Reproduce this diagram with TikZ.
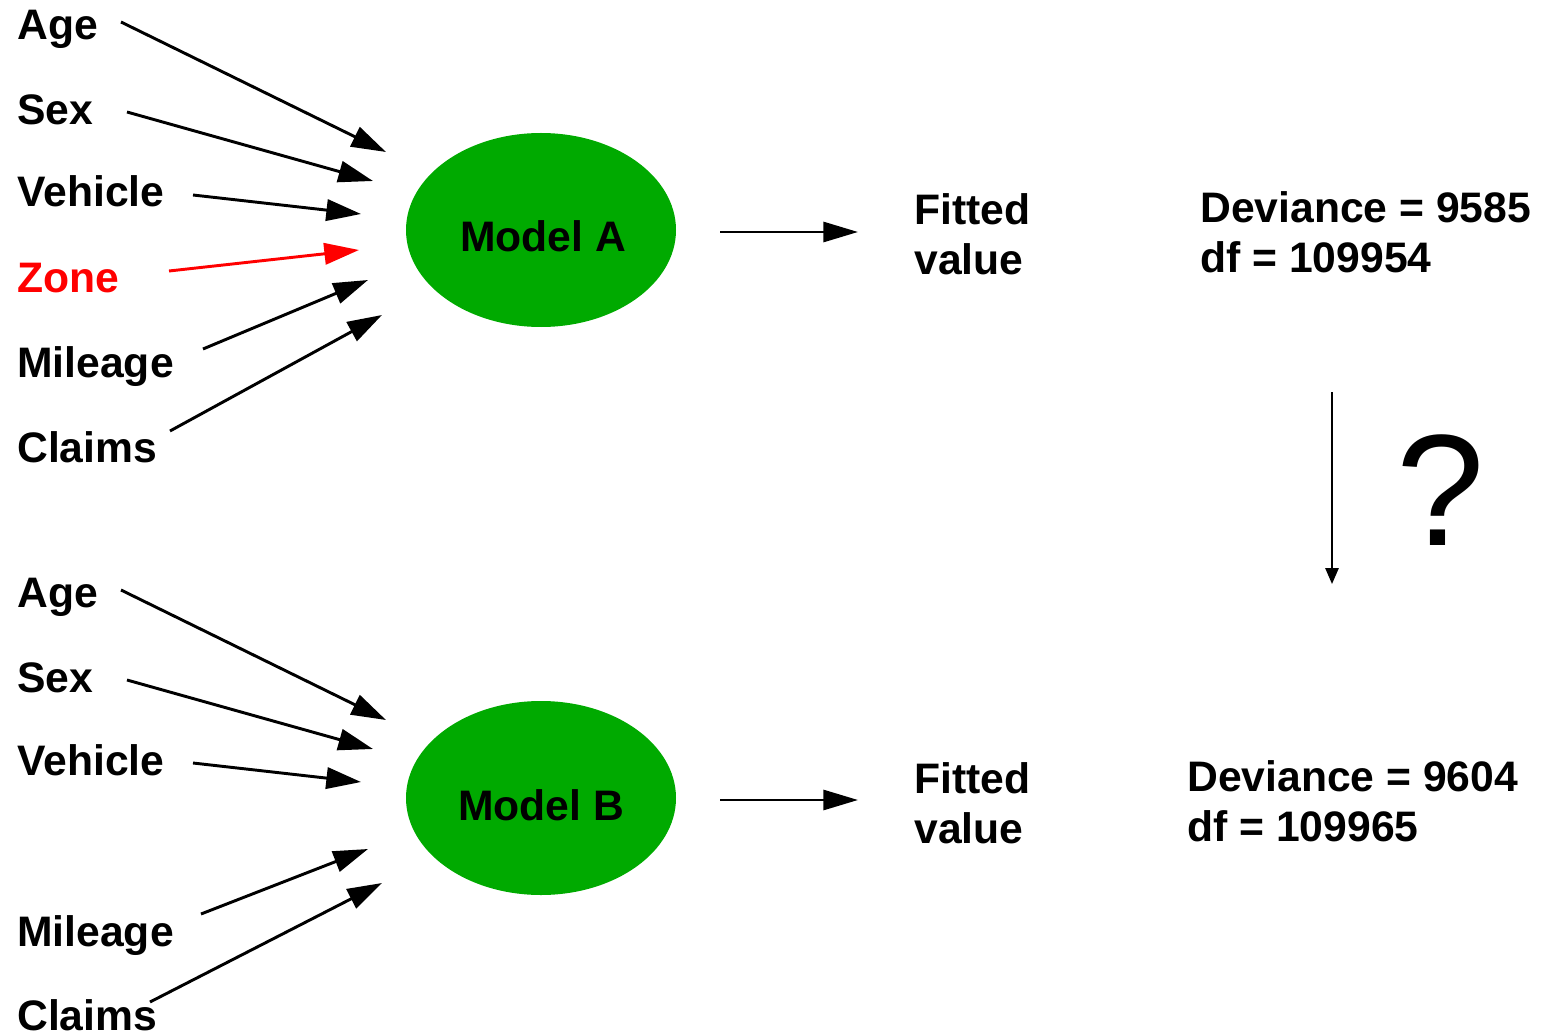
\documentclass[tikz,border=0pt]{standalone}
\usepackage{fontspec}
\setmainfont{Liberation Sans}
\usetikzlibrary{arrows.meta,shapes.geometric}
\definecolor{modelgreen}{RGB}{0,170,0}
\definecolor{zonered}{RGB}{255,0,0}
\begin{document}
\begin{tikzpicture}[x=0.75pt,y=-0.75pt,
  lbl/.style={anchor=base west,inner sep=0pt,font=\fontsize{32}{37.5}\selectfont\bfseries},
  model/.style={ellipse,fill=modelgreen,minimum width=202.5pt,minimum height=145.5pt,inner sep=0pt},
  inarrow/.style={line width=2.2pt,-{Triangle[length=26pt,width=16pt]}},
  outarrow/.style={line width=2.2pt,-{Triangle[length=26pt,width=15pt]}},
  cmparrow/.style={line width=1.4pt,-{Triangle[length=12pt,width=10pt]}}
]
\useasboundingbox (0,0) rectangle (1542,1034);

% ---------- Model A ----------
\node[model] (ma) at (541,230) {};
\node[lbl,anchor=base] (mat) at (543,252) {Model A};

\node[lbl] (a1) at (17,40) {Age};
\node[lbl] (s1) at (17,125) {Sex};
\node[lbl] (v1) at (17,207) {Vehicle};
\node[lbl,text=zonered] (z1) at (17,292) {Zone};
\node[lbl] (m1) at (17,378) {Mileage};
\node[lbl] (c1) at (17,462) {Claims};

\coordinate (a1s) at (121,22);  \coordinate (a1e) at (386,152);
\coordinate (s1s) at (127,112); \coordinate (s1e) at (373,181);
\coordinate (v1s) at (193,195); \coordinate (v1e) at (361,214);
\coordinate (z1s) at (169,271); \coordinate (z1e) at (359,250);
\coordinate (m1s) at (203,349); \coordinate (m1e) at (368,280);
\coordinate (c1s) at (170,431); \coordinate (c1e) at (382,315);

\draw[inarrow] (a1s) -- (a1e);
\draw[inarrow] (s1s) -- (s1e);
\draw[inarrow] (v1s) -- (v1e);
\draw[inarrow,draw=zonered,fill=zonered] (z1s) -- (z1e);
\draw[inarrow] (m1s) -- (m1e);
\draw[inarrow] (c1s) -- (c1e);

\node[lbl,align=left] (f1) at (914,275) {Fitted\\value};
\coordinate (o1s) at (720,232); \coordinate (o1e) at (858,232);
\draw[outarrow] (o1s) -- (o1e);

\node[lbl,align=left] (d1) at (1200,273) {Deviance = 9585\\df = 109954};

% ---------- comparison ----------
\coordinate (q1s) at (1332,392); \coordinate (q1e) at (1332,584);
\draw[cmparrow] (q1s) -- (q1e);
\node[anchor=base,inner sep=0pt,font=\fontsize{119}{120}\selectfont] (qm) at (1441,545) {?};

% ---------- Model B ----------
\node[model] (mb) at (541,798) {};
\node[lbl,anchor=base] (mbt) at (541,820) {Model B};

\node[lbl] (a2) at (17,607) {Age};
\node[lbl] (s2) at (17,692) {Sex};
\node[lbl] (v2) at (17,775) {Vehicle};
\node[lbl] (m2) at (17,946) {Mileage};
\node[lbl] (c2) at (17,1030) {Claims};

\coordinate (a2s) at (121,590); \coordinate (a2e) at (386,720);
\coordinate (s2s) at (127,680); \coordinate (s2e) at (373,749);
\coordinate (v2s) at (193,763); \coordinate (v2e) at (361,782);
\coordinate (m2s) at (201,914); \coordinate (m2e) at (368,849);
\coordinate (c2s) at (150,1002); \coordinate (c2e) at (382,883);

\draw[inarrow] (a2s) -- (a2e);
\draw[inarrow] (s2s) -- (s2e);
\draw[inarrow] (v2s) -- (v2e);
\draw[inarrow] (m2s) -- (m2e);
\draw[inarrow] (c2s) -- (c2e);

\node[lbl,align=left] (f2) at (914,843) {Fitted\\value};
\coordinate (o2s) at (720,800); \coordinate (o2e) at (858,800);
\draw[outarrow] (o2s) -- (o2e);

\node[lbl,align=left] (d2) at (1187,841) {Deviance = 9604\\df = 109965};
\end{tikzpicture}
\end{document}
